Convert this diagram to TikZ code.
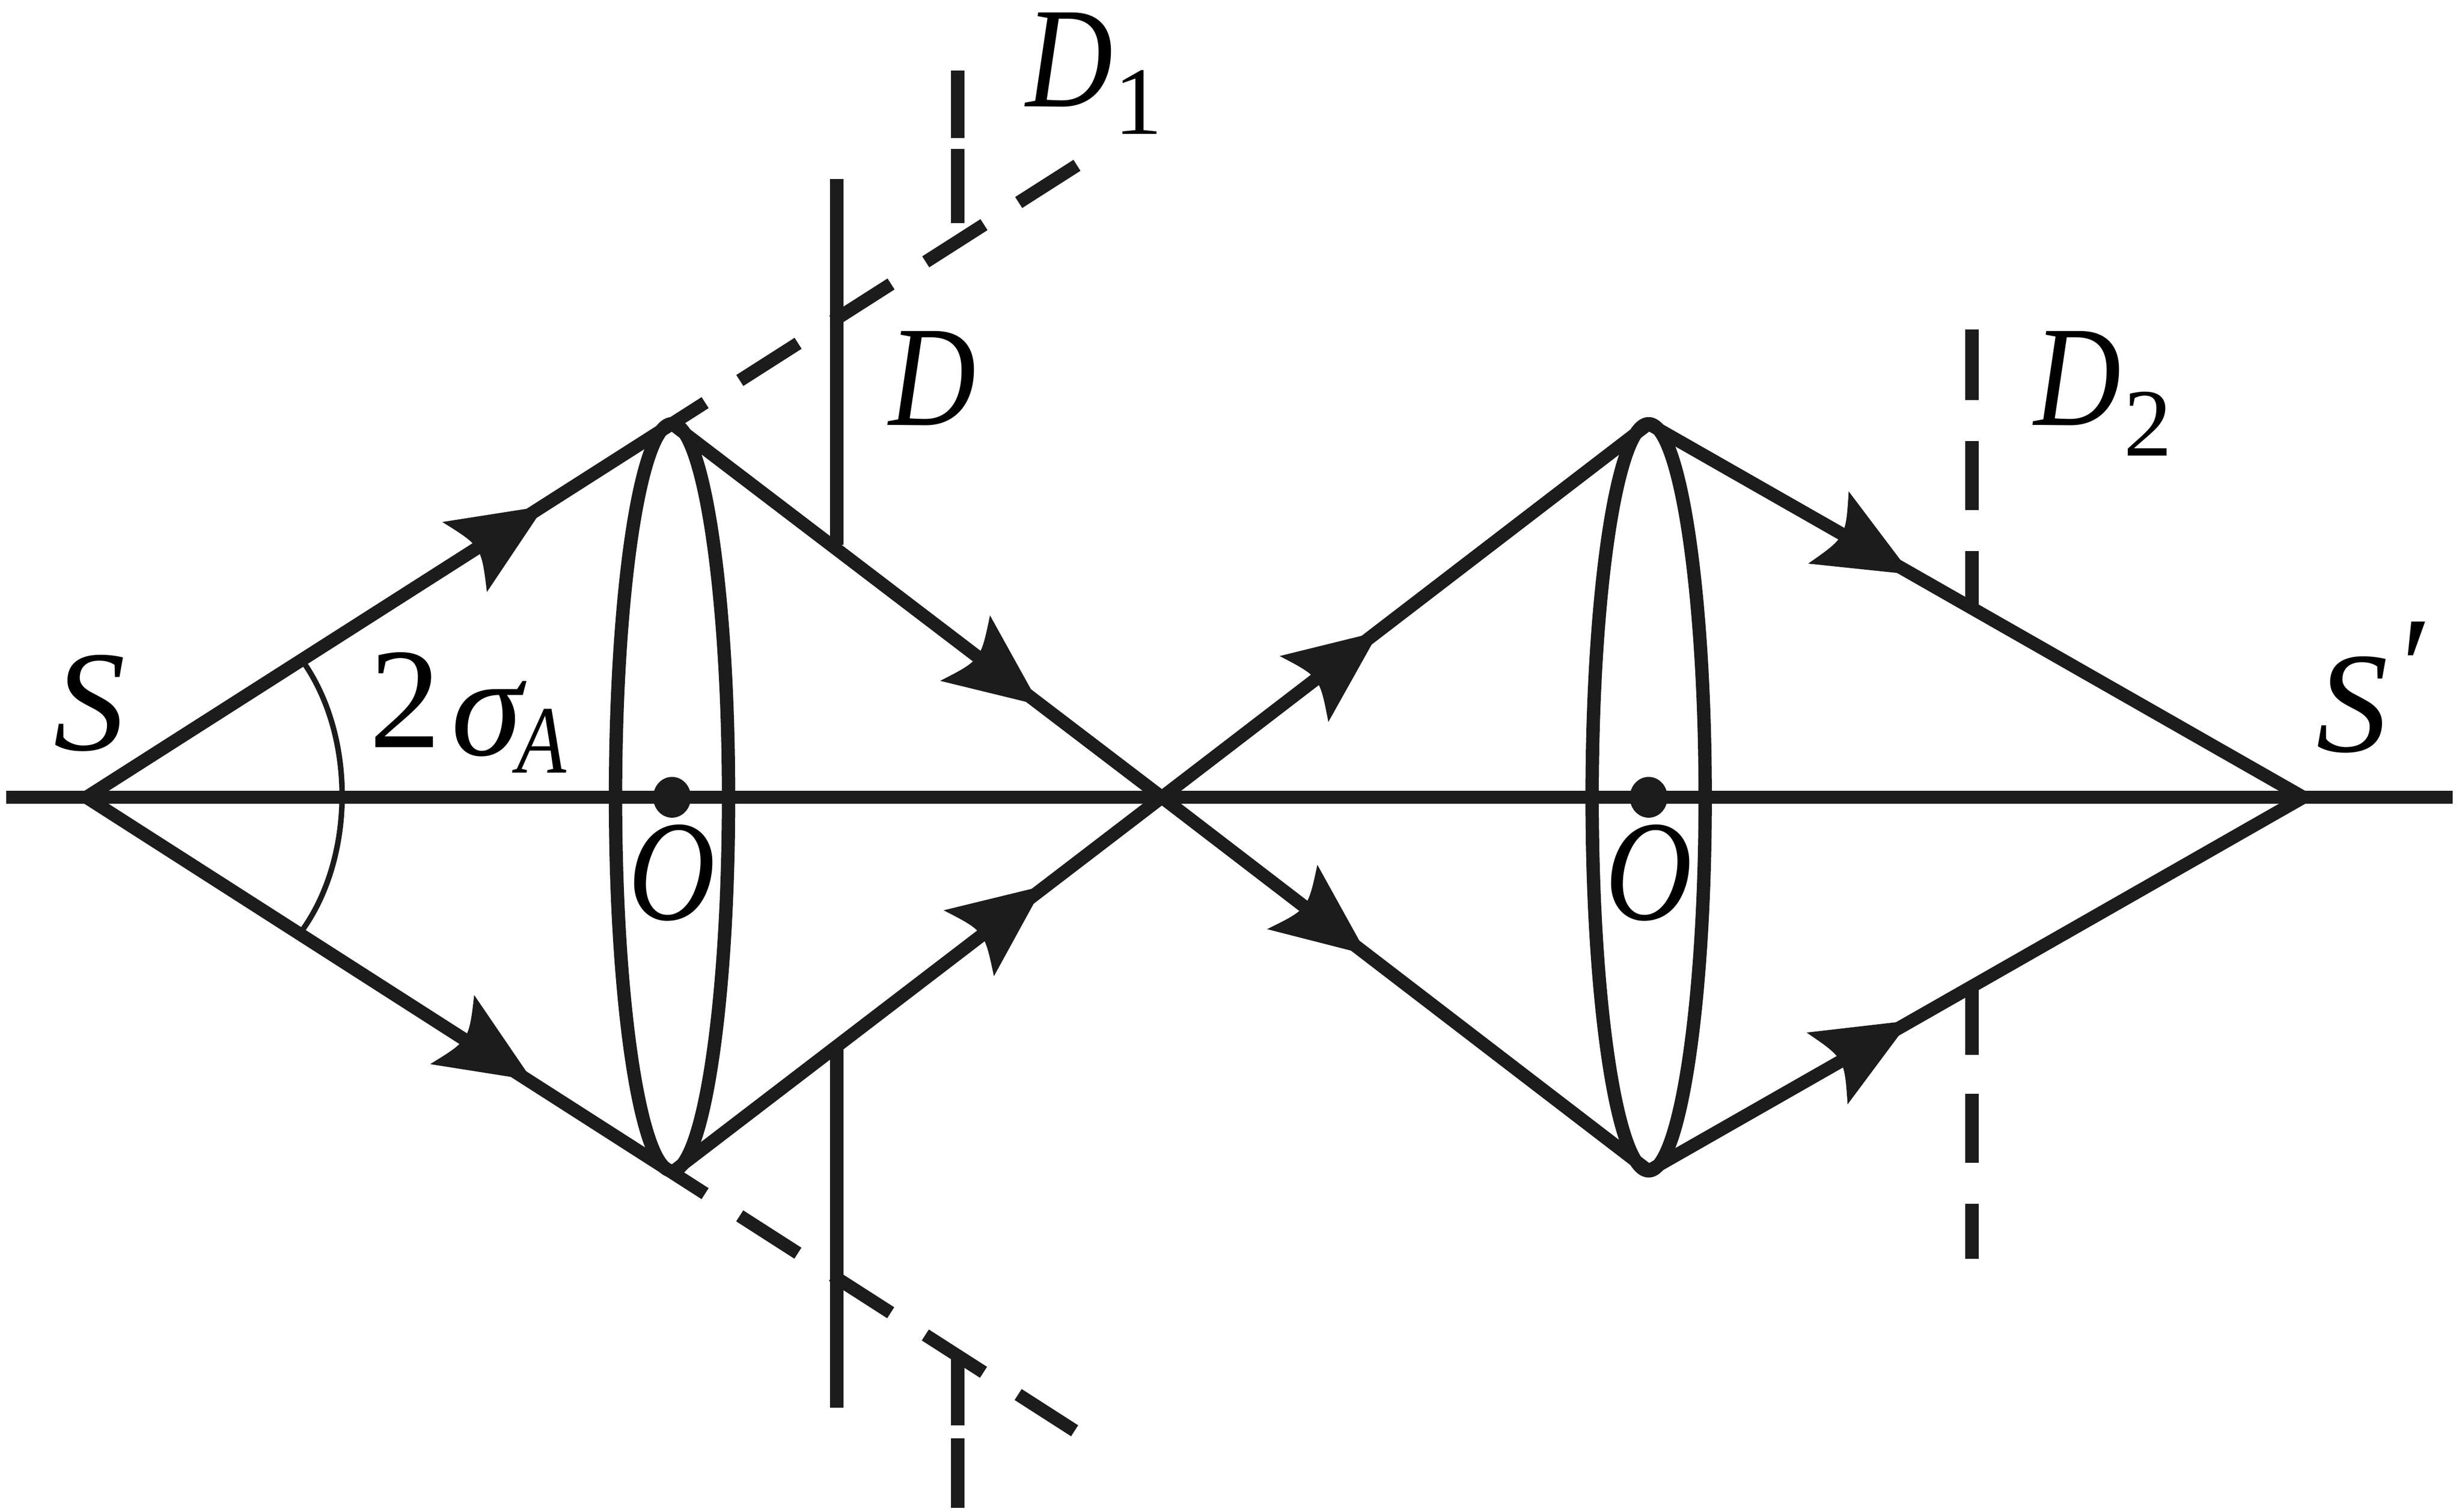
\documentclass[tikz,border=0pt]{standalone}
\usepackage{fontspec}
\setmainfont{Liberation Serif}
\newfontfamily\narrowfont[FakeStretch=0.84]{Liberation Serif}
\usetikzlibrary{shapes.geometric,calc}
\definecolor{ink}{HTML}{1C1C1C}
\tikzset{
  ray/.style={line width=0.083cm,draw=ink},
  axisline/.style={line width=0.085cm,draw=ink},
  lens/.style={line width=0.085cm,draw=ink},
  stopline/.style={line width=0.087cm,draw=ink},
  dashray/.style={line width=0.083cm,draw=ink,dash pattern=on 0.44cm off 0.262cm,dash phase=0.19cm},
  head/.style={fill=ink,draw=none},
  lab/.style={font=\fontsize{26pt}{26pt}\narrowfont\itshape,text=black,inner sep=0pt},
  widelab/.style={font=\fontsize{26pt}{26pt}\selectfont\itshape,text=black,inner sep=0pt},
  sublab/.style={font=\fontsize{17.5pt}{17.5pt}\selectfont,text=black,inner sep=0pt},
}
% tip, first barb, second barb
\newcommand{\arrowhd}[3]{\fill[head] #1 -- #2 .. controls ($#2!0.5!#3!0.21!#1$) .. #3 -- cycle;}
\begin{document}
\begin{tikzpicture}[x=0.01cm,y=-0.01cm]
\useasboundingbox (0,0) rectangle (1568,963.3);
\coordinate (S) at (55,508);
\coordinate (T1) at (428,270);
\coordinate (B1) at (428,747);
\coordinate (C1) at (428,508);
\coordinate (X) at (740,508);
\coordinate (T2) at (1050,270);
\coordinate (B2) at (1050,746);
\coordinate (C2) at (1050,508);
\coordinate (Sp) at (1467,508);
\coordinate (AL) at (4,508);
\coordinate (AR) at (1562,508);
\coordinate (TE) at (688,104);
\coordinate (BE) at (684.4,911.6);
% axis
\draw[axisline] (AL) -- (AR);
% lenses
\draw[lens] (C1) ellipse [x radius=36,y radius=238];
\draw[lens] (C2) ellipse [x radius=36,y radius=238];
\fill[ink] (C1) ellipse [x radius=12,y radius=13];
\fill[ink] (C2) ellipse [x radius=12,y radius=13];
% rays
\draw[ray] (S) -- (T1);
\draw[ray] (S) -- (B1);
\draw[ray] (T1) -- (X);
\draw[ray] (B1) -- (X);
\draw[ray] (X) -- (T2);
\draw[ray] (X) -- (B2);
\draw[ray] (T2) -- (Sp);
\draw[ray] (B2) -- (Sp);
% dashed continuations
\draw[dashray] (T1) -- (TE);
\draw[dashray] (B1) -- (BE);
% aperture stop
\draw[stopline] (533,114) -- (533,347);
\draw[stopline] (533,668) -- (533,897);
% planes D1 and D2
\draw[stopline] (610,45) -- (610,88);
\draw[stopline] (610,95) -- (610,142);
\draw[stopline] (610,866) -- (610,908);
\draw[stopline] (610,916.5) -- (610,960.8);
\draw[stopline] (1256,210) -- (1256,255);
\draw[stopline] (1256,281) -- (1256,325);
\draw[stopline] (1256,351) -- (1256,385);
\draw[stopline] (1256,630) -- (1256,672);
\draw[stopline] (1256,697) -- (1256,741);
\draw[stopline] (1256,767) -- (1256,802);
% angle arc
\draw[ink,line width=0.035cm] (194,423) .. controls (226,470) and (226,545) .. (193,592);
% arrowheads
\arrowhd{(346.8,322.4)}{(281.7,332.6)}{(310.1,377.2)}
\arrowhd{(662.2,449.3)}{(630.5,392.1)}{(598.8,433.8)}
\arrowhd{(339,688.3)}{(302,634)}{(274,678)}
\arrowhd{(664.5,564.5)}{(601,580)}{(633,622)}
\arrowhd{(878.2,402.4)}{(815,418)}{(846,460)}
\arrowhd{(870.7,608.3)}{(839,551)}{(807,592)}
\arrowhd{(1217.3,366)}{(1177.4,313.1)}{(1151.6,359.1)}
\arrowhd{(1216.4,650.3)}{(1150.6,657.9)}{(1176.7,703.6)}
% labels
\node[widelab] (lS) at (57,448) {S};
\node[widelab] (l2) at (258,446) {\upshape 2};
\node[widelab] (lsig) at (310,458) {σ};
\node[sublab,font=\fontsize{17.5pt}{17.5pt}\narrowfont\itshape] (lA) at (345,472) {A};
\node[lab] (lO1) at (428,556) {O};
\node[lab] (lO2) at (1050,556) {O};
\node[lab] (lD) at (594,241) {D};
\node[lab] (lD1) at (681,38) {D};
\node[sublab] (l1) at (725,65) {1};
\node[lab] (lD2) at (1323,241) {D};
\node[sublab] (l22) at (1368,270) {2};
\node[widelab] (lSp) at (1498,449) {S};
\node[widelab,font=\fontsize{26pt}{26pt}\selectfont\upshape] (lpr) at (1539,426) {\char"2032};
\end{tikzpicture}
\end{document}
